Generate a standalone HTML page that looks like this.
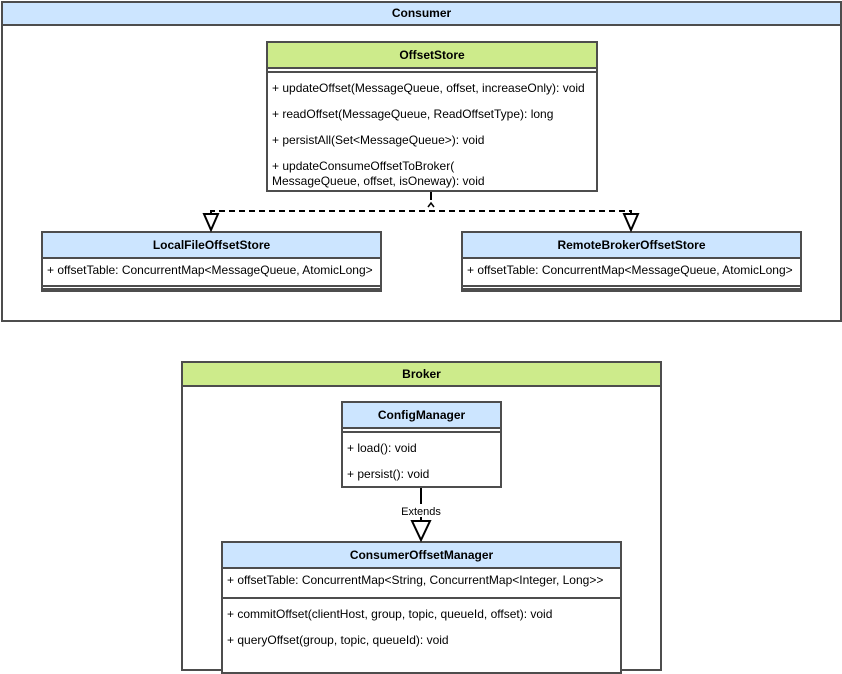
<!DOCTYPE html>
<html><head><style>
body{margin:0;width:842px;height:672px;position:relative;background:#fff;font-family:"Liberation Sans",Arial,sans-serif;font-size:12px;color:#000;overflow:hidden}
.b{position:absolute;box-sizing:border-box;border:2px solid #4d4d4d;background:#fff}
.h{position:absolute;left:0;right:0;top:0;box-sizing:border-box;border-bottom:2px solid #4d4d4d;text-align:center;font-weight:bold;font-size:12px}
.blue{background:#cce5ff}.green{background:#cdeb8b}
.t{position:absolute;white-space:nowrap;font-size:12px}
.l{position:absolute;left:0;right:0;border-top:2px solid #4d4d4d}
</style></head><body>
<div class="b" style="left:1px;top:1px;width:841px;height:321px"><div class="h blue" style="height:23px;line-height:21px">Consumer</div></div>
<div class="b" style="left:266px;top:41px;width:332px;height:151px">
<div class="h green" style="height:26px;line-height:24px">OffsetStore</div>
<div class="l" style="top:28px"></div>
<div class="t" style="left:4px;top:38px">+ updateOffset(MessageQueue, offset, increaseOnly): void</div>
<div class="t" style="left:4px;top:64px">+ readOffset(MessageQueue, ReadOffsetType): long</div>
<div class="t" style="left:4px;top:90px">+ persistAll(Set&lt;MessageQueue&gt;): void</div>
<div class="t" style="left:4px;top:116px;line-height:15px">+ updateConsumeOffsetToBroker(<br>MessageQueue, offset, isOneway): void</div>
</div>
<div class="b" style="left:41px;top:231px;width:341px;height:61px">
<div class="h blue" style="height:26px;line-height:24px">LocalFileOffsetStore</div>
<div class="t" style="left:4px;top:30px">+ offsetTable: ConcurrentMap&lt;MessageQueue, AtomicLong&gt;</div>
<div class="l" style="top:52px"></div><div class="l" style="top:55px"></div>
</div>
<div class="b" style="left:461px;top:231px;width:341px;height:61px">
<div class="h blue" style="height:26px;line-height:24px">RemoteBrokerOffsetStore</div>
<div class="t" style="left:4px;top:30px">+ offsetTable: ConcurrentMap&lt;MessageQueue, AtomicLong&gt;</div>
<div class="l" style="top:52px"></div><div class="l" style="top:55px"></div>
</div>
<div class="b" style="left:181px;top:361px;width:481px;height:310px"><div class="h green" style="height:24px;line-height:22px">Broker</div></div>
<div class="b" style="left:341px;top:401px;width:161px;height:87px">
<div class="h blue" style="height:26px;line-height:24px">ConfigManager</div>
<div class="l" style="top:28px"></div>
<div class="t" style="left:4px;top:38px">+ load(): void</div>
<div class="t" style="left:4px;top:64px">+ persist(): void</div>
</div>
<div class="b" style="left:221px;top:541px;width:401px;height:133px">
<div class="h blue" style="height:26px;line-height:24px">ConsumerOffsetManager</div>
<div class="t" style="left:4px;top:30px">+ offsetTable: ConcurrentMap&lt;String, ConcurrentMap&lt;Integer, Long&gt;&gt;</div>
<div class="l" style="top:54px"></div>
<div class="t" style="left:4px;top:64px">+ commitOffset(clientHost, group, topic, queueId, offset): void</div>
<div class="t" style="left:4px;top:90px">+ queryOffset(group, topic, queueId): void</div>
</div>
<svg width="842" height="672" style="position:absolute;left:0;top:0">
<g stroke="#000" stroke-width="2" fill="none">
<line x1="431" y1="192" x2="431" y2="200"/>
<path d="M211 213 V211 H631 V213" stroke-dasharray="6,4"/>
<path d="M428 207 L431 203 L434 207" stroke-width="1.5"/>
<polygon points="204,214 218,214 211,230" fill="#fff"/>
<polygon points="624,214 638,214 631,230" fill="#fff"/>
<line x1="421" y1="488" x2="421" y2="504"/>
<line x1="421" y1="517" x2="421" y2="521"/>
<polygon points="412,521 430,521 421,540" fill="#fff"/>
</g>
<text x="421" y="515" font-size="11" text-anchor="middle" font-family="Liberation Sans,Arial,sans-serif">Extends</text>
</svg>
</body></html>
